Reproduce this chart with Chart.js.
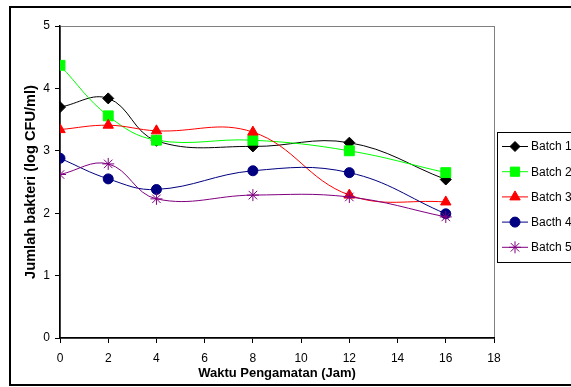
<!DOCTYPE html>
<html>
<head>
<meta charset="utf-8">
<script src="https://cdn.jsdelivr.net/npm/chart.js@4/dist/chart.umd.min.js"></script>
<style>
  html, body { margin: 0; padding: 0; background: #ffffff; }
  #wrap { width: 571px; height: 387px; position: relative; }
</style>
</head>
<body>
<div id="wrap"><canvas id="c" width="571" height="387"></canvas></div>
<script>
// Observation times (hours)
const hours = [0, 2, 4, 8, 12, 16];

// Bacterial counts, log CFU/ml
const batch1 = [3.70, 3.84, 3.16, 3.07, 3.13, 2.54];
const batch2 = [4.37, 3.56, 3.17, 3.17, 3.00, 2.65];
const batch3 = [3.34, 3.41, 3.32, 3.30, 2.29, 2.18];
const batch4 = [2.88, 2.55, 2.38, 2.68, 2.65, 1.99];
const batch5 = [2.62, 2.79, 2.23, 2.29, 2.26, 1.94];

const seriesNames = ['Batch 1', 'Batch 2', 'Batch 3', 'Bacth 4', 'Batch 5'];
const seriesValues = [batch1, batch2, batch3, batch4, batch5];
const seriesColors = ['#000000', '#00ff00', '#ff0000', '#000080', '#800080'];
const seriesMarkers = ['rectRot', 'rect', 'triangle', 'circle', 'star'];
const markerRadius = [5.5, 7, 6, 5, 6];
const legendRadius = [5, 6.5, 6, 5, 6];

const datasets = seriesNames.map((name, i) => ({
  label: name,
  data: hours.map((h, j) => ({ x: h, y: seriesValues[i][j] })),
  borderColor: seriesColors[i],
  backgroundColor: seriesColors[i],
  borderWidth: 1,
  pointStyle: seriesMarkers[i],
  pointRadius: markerRadius[i],
  pointBorderWidth: 1,
  pointBackgroundColor: seriesColors[i],
  pointBorderColor: seriesColors[i],
  tension: 0.4,
  fill: false,
  // later series are painted over earlier ones
  order: seriesNames.length - i
}));

const FONT = 'Arial, "Liberation Sans", sans-serif';

// Outer frame and grey plot border
const framePlugin = {
  id: 'frame',
  beforeDraw(chart) {
    const ctx = chart.ctx;
    const a = chart.chartArea;
    ctx.save();
    ctx.fillStyle = '#ffffff';
    ctx.fillRect(0, 0, chart.width, chart.height);
    ctx.strokeStyle = '#000000';
    ctx.lineWidth = 2;
    ctx.strokeRect(10, 7, 620, 378);
    ctx.strokeStyle = '#808080';
    ctx.lineWidth = 1;
    ctx.strokeRect(a.left + 0.5, a.top + 0.5, a.right - a.left, a.bottom - a.top);
    ctx.restore();
  }
};

// Boxed legend at the right side
const legendPlugin = {
  id: 'boxLegend',
  afterDraw(chart) {
    const ctx = chart.ctx;
    const boxLeft = 497, boxTop = 132, boxBottom = 262;
    ctx.save();
    ctx.fillStyle = '#ffffff';
    ctx.fillRect(boxLeft, boxTop, 200, boxBottom - boxTop);
    ctx.strokeStyle = '#000000';
    ctx.lineWidth = 1;
    ctx.strokeRect(boxLeft + 0.5, boxTop + 0.5, 200, boxBottom - boxTop);
    chart.data.datasets.forEach((ds, i) => {
      const y = 146 + i * 25.2;
      ctx.strokeStyle = ds.borderColor;
      ctx.lineWidth = 1;
      ctx.beginPath();
      ctx.moveTo(502, y + 0.5);
      ctx.lineTo(528, y + 0.5);
      ctx.stroke();
      ctx.fillStyle = ds.backgroundColor;
      ctx.strokeStyle = ds.borderColor;
      Chart.helpers.drawPoint(ctx, {
        pointStyle: ds.pointStyle,
        radius: legendRadius[i],
        rotation: 0,
        borderWidth: 1
      }, 515, y + 0.5);
      ctx.fillStyle = '#000000';
      ctx.font = '12px ' + FONT;
      ctx.textAlign = 'left';
      ctx.textBaseline = 'middle';
      ctx.fillText(ds.label, 531, y + 1);
    });
    ctx.restore();
  }
};

new Chart(document.getElementById('c'), {
  type: 'line',
  data: { datasets },
  plugins: [framePlugin, legendPlugin],
  options: {
    responsive: false,
    animation: false,
    layout: { padding: { left: 12, right: 77, top: 26, bottom: 0 } },
    plugins: {
      legend: { display: false },
      tooltip: { enabled: false }
    },
    scales: {
      x: {
        type: 'linear',
        min: 0,
        max: 18,
        ticks: { stepSize: 2, color: '#000000', font: { family: FONT, size: 12 }, padding: 8, maxRotation: 0 },
        grid: { drawOnChartArea: false, drawTicks: true, tickLength: 5, color: '#000000' },
        border: { color: '#000000', width: 1.5 },
        title: {
          display: true,
          text: 'Waktu Pengamatan (Jam)',
          color: '#000000',
          font: { family: FONT, size: 13, weight: 'bold' },
          padding: { top: 0, bottom: 6 }
        },
        afterFit(scale) { scale.height = 49; }
      },
      y: {
        min: 0,
        max: 5,
        ticks: { stepSize: 1, color: '#000000', font: { family: FONT, size: 12 }, padding: 5 },
        grid: { drawOnChartArea: false, drawTicks: true, tickLength: 5, color: '#000000' },
        border: { color: '#000000', width: 1.5 },
        title: {
          display: true,
          text: 'Jumlah bakteri (log CFU/ml)',
          color: '#000000',
          font: { family: FONT, size: 14.6, weight: 'bold' },
          padding: { top: 10, bottom: 0 }
        },
        afterFit(scale) { scale.width = 48; }
      }
    }
  }
});
</script>
</body>
</html>
